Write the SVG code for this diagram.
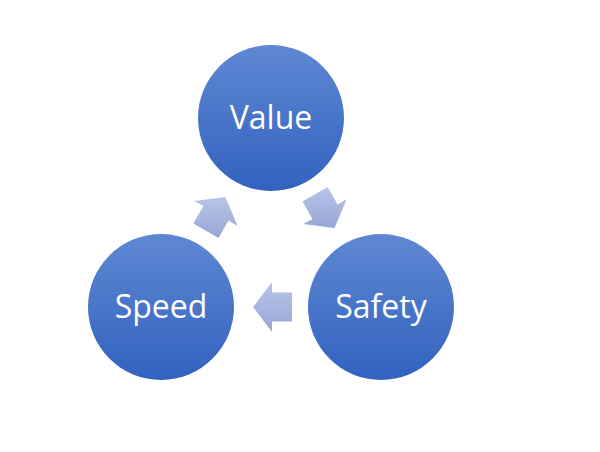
<svg xmlns="http://www.w3.org/2000/svg" width="600" height="452" viewBox="0 0 600 452">
<defs>
<linearGradient id="gc" x1="0" y1="0" x2="0" y2="1">
<stop offset="0" stop-color="#5f88d3"/>
<stop offset="1" stop-color="#3262bf"/>
</linearGradient>
<linearGradient id="ga" x1="0" y1="0" x2="0" y2="1">
<stop offset="0" stop-color="#b9c5e7"/>
<stop offset="1" stop-color="#97a6d7"/>
</linearGradient>
<style>
.c{fill:url(#gc);}
.a{fill:url(#ga);}
.t{fill:#ffffff;font-family:"Open Sans","Noto Sans",sans-serif;font-size:32px;text-anchor:middle;}
</style>
</defs>
<rect width="600" height="452" fill="#ffffff"/>
<g id="connectors">
<polygon class="a" points="225.4,196.9 237.6,225.9 228.5,220.6 218.5,237.9 193.4,223.4 203.4,206.1 194.3,200.9"/>
<polygon class="a" points="334.6,228.1 303.4,224.1 312.5,218.9 302.5,201.6 327.6,187.1 337.6,204.4 346.7,199.1"/>
<polygon class="a" points="253,307 272,282 272,292.5 292,292.5 292,321.5 272,321.5 272,332"/>
</g>
<g id="value">
<circle class="c" cx="271" cy="118" r="73"/>
<text class="t" x="271" y="129">Value</text>
</g>
<g id="safety">
<circle class="c" cx="381" cy="307" r="73"/>
<text class="t" x="381" y="318">Safety</text>
</g>
<g id="speed">
<circle class="c" cx="161" cy="307" r="73"/>
<text class="t" x="161" y="318">Speed</text>
</g>
</svg>
